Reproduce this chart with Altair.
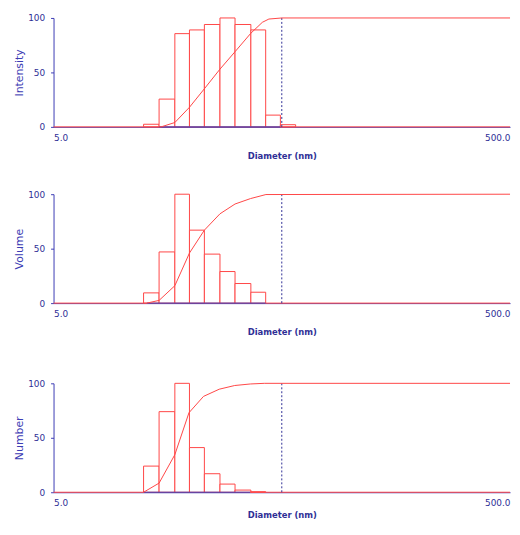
import altair as alt
import pandas as pd

# Histogram bin edges (nm) shared by all panels
EDGES = [12.4, 14.5, 17.0, 19.7, 22.9, 26.8, 31.2, 36.6, 42.5, 49.3, 57.5]

INTENSITY = [2.4, 25.5, 85.6, 89, 94, 100, 94, 89, 10.8, 2]
VOLUME = [9.4, 47, 100, 67, 45, 29, 18, 10]
NUMBER = [24, 74, 100, 41, 17, 7.5, 2, 0.5]

# Cumulative curves (diameter, percent)
INT_CUM_D = [5, 14.8, 17.0, 19.7, 22.9, 26.8, 31.2, 36.6, 41.1, 43.9, 50.1, 500]
INT_CUM_C = [0, 0, 4, 18, 35, 53, 69, 86, 96, 99, 100, 100]
VOL_CUM_D = [5, 12.8, 14.5, 17.0, 19.7, 22.9, 26.8, 31.2, 36.5, 42.6, 500]
VOL_CUM_C = [0, 0, 2.5, 16, 46, 67, 82, 91, 96, 99.7, 100]
NUM_CUM_D = [5, 12.4, 14.5, 17.0, 19.6, 22.7, 26.6, 31.1, 36.4, 41.9, 500]
NUM_CUM_C = [0, 0, 8.4, 34.5, 73, 88, 94.6, 98, 99.4, 100, 100]

# Extent of the blue baseline under each histogram
BASE_RANGES = {"Intensity": (14.5, 49.3), "Volume": (12.8, 42.5), "Number": (12.4, 36.4)}
CUTOFF = 50
X_TICKS = [5, 500]
Y_TICKS = [0, 50, 100]

RED = "#ff4646"
BLUE = "#3c3cb4"
NAVY = "#2f2f96"

xscale = alt.Scale(type="log", domain=[5, 500], nice=False)
yscale = alt.Scale(domain=[0, 100], nice=False)


def panel(label, values, cum_d, cum_c, lab_pad=7, title_pad=9):
    n = len(values)
    bars = pd.DataFrame({"lo": EDGES[:n], "hi": EDGES[1:n + 1], "v": values})
    xax = alt.Axis(title="Diameter (nm)", values=X_TICKS, format=".1f", labelFlush=True,
                   ticks=False, grid=False, domainColor=BLUE, labelColor=NAVY,
                   titleColor=NAVY, titleFontWeight="bold", titleFontSize=8.5,
                   labelFontSize=9, labelPadding=lab_pad, titlePadding=title_pad)
    yax = alt.Axis(title=label, values=Y_TICKS, grid=False, domainColor=BLUE, tickColor=BLUE,
                   tickSize=3, labelColor=NAVY, labelFontSize=9, labelPadding=6,
                   titleColor=BLUE, titleFontWeight="normal", titleFontSize=11, titlePadding=3)

    def X(f):
        return alt.X(f, scale=xscale, axis=xax, title="Diameter (nm)")

    def Y(f):
        return alt.Y(f, scale=yscale, axis=yax, title=label)

    b = alt.Chart(bars).mark_bar(fill="white", stroke=RED, strokeWidth=1).encode(
        x=X("lo:Q"), x2="hi:Q", y=Y("v:Q"), y2=alt.datum(0))
    lo, hi = BASE_RANGES[label]
    base = alt.Chart(pd.DataFrame({"a": [lo], "b": [hi], "y": [0]})).mark_rule(
        color=BLUE, strokeWidth=1).encode(x=X("a:Q"), x2="b:Q", y=Y("y:Q"))
    tail = alt.Chart(pd.DataFrame({"a": [hi], "b": [500], "y": [0]})).mark_rule(
        color=RED, strokeWidth=1).encode(x=X("a:Q"), x2="b:Q", y=Y("y:Q"))
    cut = alt.Chart(pd.DataFrame({"x": [CUTOFF], "y0": [0], "y1": [100]})).mark_rule(
        color=NAVY, strokeWidth=1, strokeDash=[2, 2]).encode(
        x=X("x:Q"), y=Y("y0:Q"), y2="y1:Q")
    cum = pd.DataFrame({"d": cum_d, "c": cum_c, "i": list(range(len(cum_d)))})
    line = alt.Chart(cum).mark_line(color=RED, strokeWidth=1).encode(
        x=X("d:Q"), y=Y("c:Q"), order="i:Q")
    return alt.layer(b, base, tail, cut, line).properties(width=461, height=110)


p1 = panel("Intensity", INTENSITY, INT_CUM_D, INT_CUM_C)
p2 = panel("Volume", VOLUME, VOL_CUM_D, VOL_CUM_C)
p3 = panel("Number", NUMBER, NUM_CUM_D, NUM_CUM_C, lab_pad=6, title_pad=4).properties(
    title=alt.TitleParams(" ", fontSize=10, offset=3))

chart = alt.vconcat(p1, p2, p3, spacing=30).properties(
    padding={"left": 5, "top": 3.5, "right": 0, "bottom": 0}
).configure(font="DejaVu Sans").configure_view(stroke=None)

chart.save("out.html", embed_options={"renderer": "svg", "actions": False})
